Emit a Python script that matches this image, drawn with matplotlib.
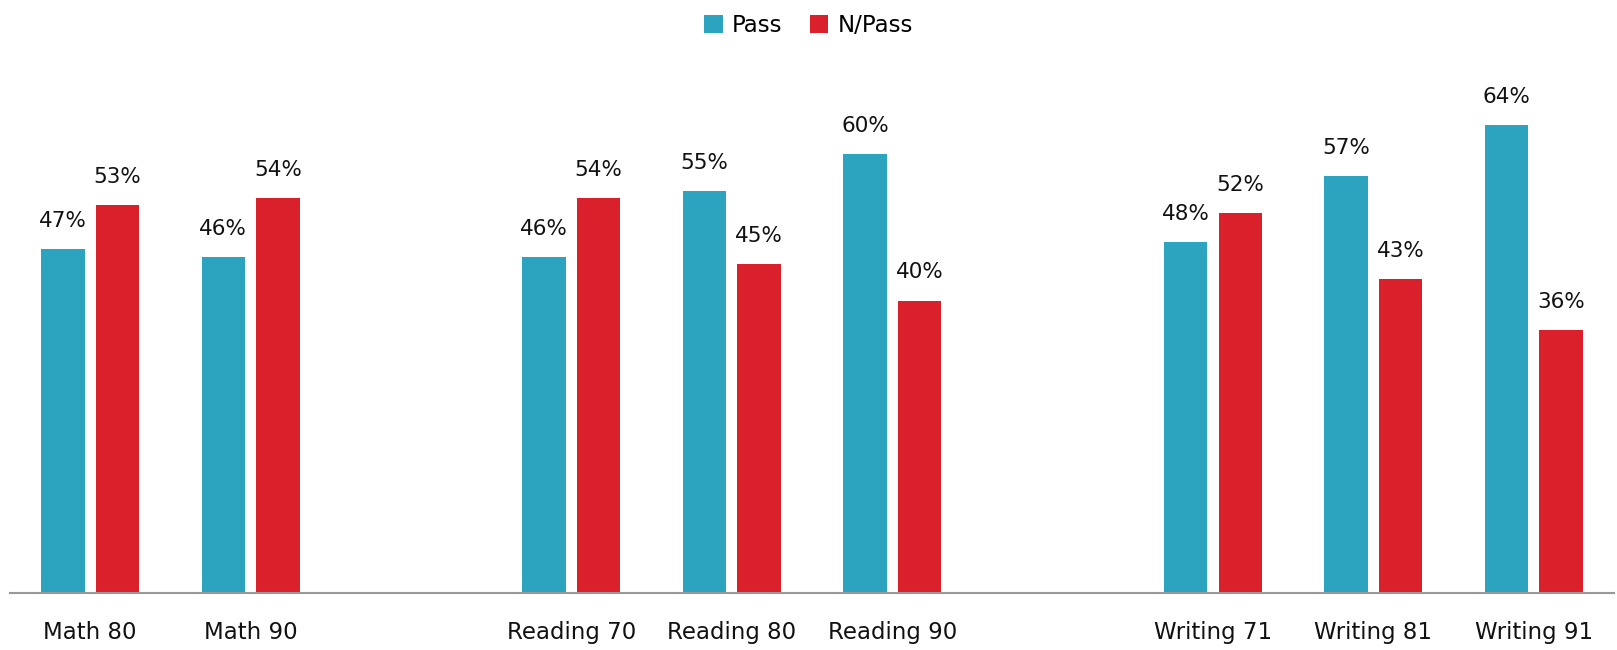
import numpy as np
import matplotlib.pyplot as plt

# chart data
labels = ['Math 80', 'Math 90', 'Reading 70', 'Reading 80', 'Reading 90',
          'Writing 71', 'Writing 81', 'Writing 91']
slots = [0, 1, 3, 4, 5, 7, 8, 9]   # empty slot between subjects
passVals = [47, 46, 46, 55, 60, 48, 57, 64]
failVals = [53, 54, 54, 45, 40, 52, 43, 36]

passColor = '#2ca3bf'
failColor = '#d9202b'

fig = plt.figure(figsize=(16.17, 6.5), dpi=100)
ax = fig.add_axes([10/1617, 1-593/650, 1604/1617, 585/650])

x = np.array(slots)
w = 0.27
off = 0.17
b1 = ax.bar(x - off, passVals, w, color=passColor, label='Pass')
b2 = ax.bar(x + off, failVals, w, color=failColor, label='N/Pass')

for bars, vals in ((b1, passVals), (b2, failVals)):
    for r, v in zip(bars, vals):
        ax.annotate('%d%%' % v, (r.get_x() + r.get_width()/2, v),
                    xytext=(0, 13), textcoords='offset points',
                    ha='center', va='bottom', fontsize=15.5, color='#111111')

ax.set_xlim(-0.5, 9.5)
ax.set_ylim(0, 80)
ax.set_xticks(x)
ax.set_xticklabels(labels, fontsize=16.5, color='#111111')
ax.tick_params(axis='x', length=0, pad=20)
ax.set_yticks([])
for s in ['top', 'right', 'left']:
    ax.spines[s].set_visible(False)
ax.spines['bottom'].set_color('#999999')
ax.spines['bottom'].set_linewidth(1.5)

fig.legend(loc='upper center', bbox_to_anchor=(0.5, 1.01), ncol=2, frameon=False,
           fontsize=16.5, handlelength=0.8, handleheight=0.8, handletextpad=0.4,
           columnspacing=1.2)

fig.savefig('out.png', dpi=100)
